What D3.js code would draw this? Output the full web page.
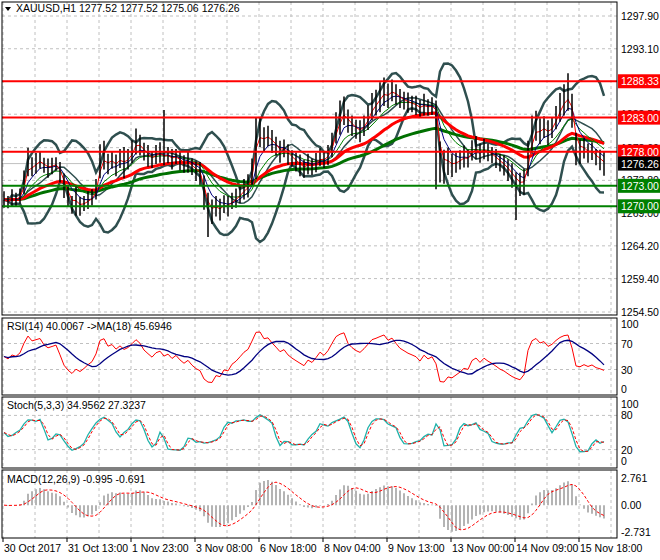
<!DOCTYPE html>
<html><head><meta charset="utf-8">
<script src="https://cdn.jsdelivr.net/npm/d3@7"></script>
<style>body{margin:0;background:#fff}text{font-family:"Liberation Sans",Arial,sans-serif;font-size:10.5px}</style>
</head><body><svg id="c" width="660" height="560"></svg>
<script>
const closes=[1271.0,1270.6,1271.2,1271.0,1271.5,1273.5,1276.5,1275.8,1276.3,1276.8,1276.0,1275.6,1275.9,1276.2,1275.0,1273.0,1271.5,1270.2,1270.8,1270.0,
1270.4,1270.9,1271.3,1272.5,1276.6,1277.5,1276.2,1276.8,1276.0,1277.0,1276.4,1276.9,1278.0,1279.5,1279.0,1278.0,1277.4,1276.8,1277.6,1277.9,
1277.2,1277.5,1276.9,1277.3,1276.7,1276.2,1276.5,1275.8,1275.2,1274.8,1272.0,1269.6,1269.2,1270.0,1269.5,1270.3,1270.0,1270.8,1271.2,1271.8,
1272.5,1273.0,1275.0,1280.5,1280.9,1279.8,1280.3,1279.5,1278.8,1278.0,1278.5,1277.6,1277.0,1276.5,1276.0,1275.5,1276.2,1275.8,1276.4,1277.2,
1276.8,1277.5,1279.0,1281.5,1283.0,1284.0,1282.5,1281.8,1281.3,1281.0,1281.8,1283.0,1284.6,1285.2,1286.0,1286.8,1286.2,1287.0,1286.4,1285.8,
1285.5,1285.2,1285.0,1284.8,1284.3,1284.9,1284.5,1284.7,1283.9,1276.5,1275.8,1276.6,1276.0,1276.4,1276.8,1277.3,1277.0,1278.2,1278.6,1277.8,
1278.4,1277.9,1277.5,1277.0,1276.4,1276.0,1275.3,1274.5,1273.8,1273.2,1273.6,1277.0,1280.5,1281.8,1281.0,1281.6,1280.8,1281.5,1283.0,1284.5,
1285.6,1286.0,1284.0,1278.4,1278.0,1278.5,1277.8,1278.1,1277.2,1276.8,1276.26];
const spans=[2.4,1.8,2.6,2.0,2.2,3.5,4.2,2.8,3.0,2.6,2.2,2.8,2.4,2.0,3.0,3.6,3.2,2.6,4.4,2.8,
2.2,2.6,2.4,3.0,5.0,4.2,3.0,2.6,3.2,2.8,4.6,3.0,3.4,3.8,3.0,2.6,3.2,2.4,2.8,3.0,
2.6,2.4,3.0,2.2,2.8,2.6,3.2,2.4,3.0,3.4,5.0,4.0,3.6,3.0,3.2,2.6,3.0,2.4,2.8,2.6,
3.0,3.4,4.0,5.2,4.4,3.6,3.0,3.4,2.8,3.2,2.6,3.0,2.4,2.8,3.2,2.6,3.0,2.4,2.8,2.6,
2.4,3.0,3.6,4.6,5.0,4.2,3.4,3.0,2.8,3.2,3.0,3.6,4.0,3.8,4.4,4.2,3.6,3.2,3.0,2.8,
2.6,3.0,2.4,2.8,2.6,3.2,2.4,2.6,3.0,6.0,5.0,4.0,3.4,3.0,2.8,3.2,2.6,3.0,3.4,2.8,
3.0,2.6,2.4,2.8,2.6,3.0,3.2,3.6,4.0,3.4,3.8,5.2,5.6,4.4,3.8,3.2,3.6,3.0,3.4,4.2,
4.6,4.0,5.0,4.8,3.6,3.0,2.8,2.6,2.4,3.0,3.6];
// spikes: [bar index, high, low]
const spikes=[[40,1284.1,1276.0],[51,1272.0,1265.5],[63,1283.0,1274.0],[108,1285.5,1272.5],[128,1275.0,1268.0],[141,1289.5,1284.0]];
const levelsRed=[1288.33,1283.00,1278.00];
const levelsGreen=[1273.00,1270.00];
const lastPrice=1276.26;
const priceTicks=[1297.90,1293.10,1288.30,1283.50,1278.60,1273.80,1269.00,1264.20,1259.40,1254.50];
const timeLabels=["30 Oct 2017","31 Oct 13:00","1 Nov 23:00","3 Nov 08:00","6 Nov 18:00","8 Nov 04:00","9 Nov 13:00","13 Nov 00:00","14 Nov 09:00","15 Nov 18:00"];

const svg=d3.select("#c");
const N=closes.length;
const x=d3.scaleLinear().domain([0,N-1]).range([4,604]);
const X0=2,X1=617;
const panes={main:[2,315],rsi:[318,395],sto:[397,468],macd:[470,538]};
const y=d3.scaleLinear().domain([1254.5,1297.9]).range([312,16]);
const yR=d3.scaleLinear().domain([0,100]).range([389,324]);
const yS=d3.scaleLinear().domain([0,100]).range([461,404]);
const yM=d3.scaleLinear().domain([-2.731,2.761]).range([532,478]);

const gridXs=d3.range(3,X1,32);
const dash="3,3",gc="#c0c0c0";
Object.values(panes).forEach(([a,b])=>{
  gridXs.forEach(gx=>svg.append("line").attr("x1",gx).attr("x2",gx).attr("y1",a).attr("y2",b).attr("stroke",gc).attr("stroke-dasharray",dash));
});
priceTicks.forEach(t=>svg.append("line").attr("x1",X0).attr("x2",X1).attr("y1",y(t)).attr("y2",y(t)).attr("stroke",gc).attr("stroke-dasharray",dash));
[70,30].forEach(t=>svg.append("line").attr("x1",X0).attr("x2",X1).attr("y1",yR(t)).attr("y2",yR(t)).attr("stroke",gc).attr("stroke-dasharray",dash));
[80,20].forEach(t=>svg.append("line").attr("x1",X0).attr("x2",X1).attr("y1",yS(t)).attr("y2",yS(t)).attr("stroke",gc).attr("stroke-dasharray",dash));

const sma=(a,p)=>a.map((_,i)=>d3.mean(a.slice(Math.max(0,i-p+1),i+1)));
const ema=(a,p)=>{const k=2/(p+1);let e=a[0];return a.map(v=>e=v*k+e*(1-k));};
const sdev=(a,p)=>a.map((_,i)=>i<2?0:d3.deviation(a.slice(Math.max(0,i-p+1),i+1)));
const lineP=(arr,sc)=>d3.line().defined(d=>d!=null).x((d,i)=>x(i)).y(d=>sc(d))(arr);

svg.append("clipPath").attr("id","cm").append("rect").attr("x",X0).attr("y",panes.main[0]).attr("width",X1-X0).attr("height",panes.main[1]-panes.main[0]);
const gm=svg.append("g").attr("clip-path","url(#cm)");

gm.append("line").attr("x1",X0).attr("x2",X1).attr("y1",y(lastPrice)).attr("y2",y(lastPrice)).attr("stroke","#c0c0c0");

const bbP=10,mid=sma(closes,bbP),sd=sdev(closes,bbP);
const up=mid.map((m,i)=>m+2.2*sd[i]),dn=mid.map((m,i)=>m-2.2*sd[i]);
[up,dn].forEach(s=>gm.append("path").attr("d",lineP(s,y)).attr("fill","none").attr("stroke","#2f4f4f").attr("stroke-width",2.5));
gm.append("path").attr("d",lineP(mid,y)).attr("fill","none").attr("stroke","#2f4f4f").attr("stroke-width",1.5);

gm.append("path").attr("d",lineP(ema(closes,50),y)).attr("fill","none").attr("stroke","#007000").attr("stroke-width",3);
gm.append("path").attr("d",lineP(ema(closes,25),y)).attr("fill","none").attr("stroke","#ff0000").attr("stroke-width",3);
gm.append("path").attr("d",lineP(ema(closes,10),y)).attr("fill","none").attr("stroke","#008000").attr("stroke-width",1);
gm.append("path").attr("d",lineP(ema(closes,5),y)).attr("fill","none").attr("stroke","#000080").attr("stroke-width",1);
gm.append("path").attr("d",lineP(ema(closes,2),y)).attr("fill","none").attr("stroke","#ff0000").attr("stroke-width",1);

closes.forEach((c,i)=>{
  let hi=c+spans[i]/2,lo=c-spans[i]/2;
  const s=spikes.find(d=>d[0]===i); if(s){hi=s[1];lo=s[2];}
  gm.append("line").attr("x1",x(i)).attr("x2",x(i)).attr("y1",y(hi)).attr("y2",y(lo)).attr("stroke","#000").attr("stroke-width",1.5);
});

levelsRed.forEach(l=>svg.append("line").attr("x1",X0).attr("x2",X1).attr("y1",y(l)).attr("y2",y(l)).attr("stroke","#ff0000").attr("stroke-width",2));
levelsGreen.forEach(l=>svg.append("line").attr("x1",X0).attr("x2",X1).attr("y1",y(l)).attr("y2",y(l)).attr("stroke","#008000").attr("stroke-width",2));

// RSI
const P=7;const gains=[0],losses=[0];
for(let i=1;i<N;i++){const d=closes[i]-closes[i-1];gains.push(Math.max(d,0));losses.push(Math.max(-d,0));}
let ag=0.5,al=0.5;
const rsi=closes.map((_,i)=>{ag=(ag*(P-1)+gains[i])/P;al=(al*(P-1)+losses[i])/P;return 100-100/(1+ag/al);});
const rsiMa=sma(rsi,9);
svg.append("path").attr("d",lineP(rsi,yR)).attr("fill","none").attr("stroke","#ff0000");
svg.append("path").attr("d",lineP(rsiMa,yR)).attr("fill","none").attr("stroke","#000080").attr("stroke-width",1.3);

// Stoch
const highs=closes.map((c,i)=>{const s=spikes.find(d=>d[0]===i);return s?s[1]:c+spans[i]/2;});
const lows=closes.map((c,i)=>{const s=spikes.find(d=>d[0]===i);return s?s[2]:c-spans[i]/2;});
const K=closes.map((c,i)=>{const a=Math.max(0,i-4);const h=d3.max(highs.slice(a,i+1)),l=d3.min(lows.slice(a,i+1));return (c-l)/(h-l)*100;});
const Ks=sma(K,2),Ds=sma(Ks,2);
svg.append("path").attr("d",lineP(Ks,yS)).attr("fill","none").attr("stroke","#20b2aa").attr("stroke-width",1.3);
svg.append("path").attr("d",lineP(Ds,yS)).attr("fill","none").attr("stroke","#ff0000").attr("stroke-dasharray","3,2");

// MACD
const e1=ema(closes,6),e2=ema(closes,13);
const macd=e1.map((v,i)=>v-e2[i]);const sig=sma(macd,5);
const sc=2.7/d3.max(macd.map(Math.abs));
macd.forEach((m,i)=>svg.append("line").attr("x1",x(i)).attr("x2",x(i)).attr("y1",yM(0)).attr("y2",yM(m*sc)).attr("stroke","#b4b4b4").attr("stroke-width",2));
svg.append("path").attr("d",lineP(sig.map(v=>v*sc),yM)).attr("fill","none").attr("stroke","#ff0000").attr("stroke-dasharray","3,2");

Object.values(panes).forEach(([a,b])=>svg.append("rect").attr("x",X0).attr("y",a).attr("width",X1-X0).attr("height",b-a).attr("fill","none").attr("stroke","#000"));

const rl=(yy,t)=>svg.append("text").attr("x",621).attr("y",yy+4).text(t);
priceTicks.forEach(t=>rl(y(t),t.toFixed(2)));
[100,70,30,0].forEach(v=>rl(yR(v),v));
[100,80,20,0].forEach(v=>rl(yS(v),v));
[2.761,0,-2.731].forEach(v=>rl(yM(v),v===0?"0.00":v.toFixed(3)));
const box=(v,col)=>{svg.append("rect").attr("x",618).attr("y",y(v)-7).attr("width",42).attr("height",14).attr("fill",col);
 svg.append("text").attr("x",621).attr("y",y(v)+4).attr("fill","#fff").text(v.toFixed(2));};
levelsRed.forEach(l=>box(l,"#ff0000"));levelsGreen.forEach(l=>box(l,"#008000"));box(lastPrice,"#000");

timeLabels.forEach((t,k)=>{const tx=3+64*k;
 svg.append("line").attr("x1",tx).attr("x2",tx).attr("y1",538).attr("y2",542).attr("stroke","#000");
 svg.append("text").attr("x",tx+1).attr("y",552).text(t);});

svg.append("path").attr("d","M5,7 L11,7 L8,11 Z").attr("fill","#000");
svg.append("text").attr("x",16).attr("y",12).text("XAUUSD,H1  1277.52 1277.52 1275.06 1276.26");
svg.append("text").attr("x",7).attr("y",330).text("RSI(14) 40.0067  ->MA(18) 45.6946");
svg.append("text").attr("x",7).attr("y",409).text("Stoch(5,3,3) 34.9562 27.3237");
svg.append("text").attr("x",7).attr("y",483).text("MACD(12,26,9) -0.995 -0.691");
</script></body></html>
